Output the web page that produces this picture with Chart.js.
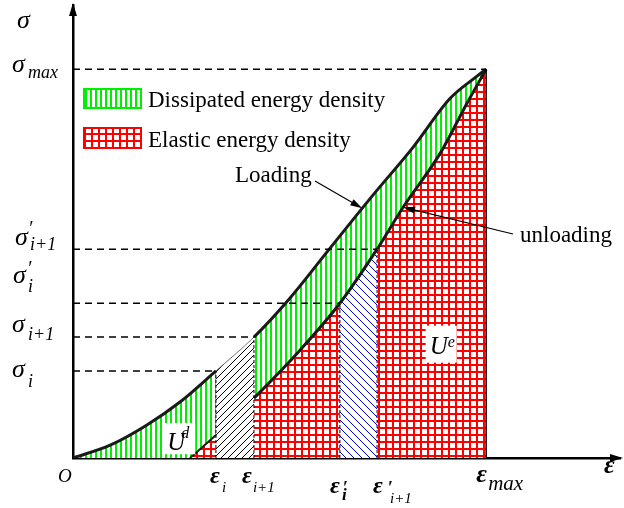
<!DOCTYPE html>
<html>
<head>
<meta charset="utf-8">
<script src="https://cdn.jsdelivr.net/npm/chart.js@4.4.0/dist/chart.umd.min.js"></script>
<style>
  body { margin: 0; background: #fff; }
  canvas { display: block; }
</style>
</head>
<body>
<canvas id="energyChart" width="624" height="508"></canvas>
<script>
// strain / stress in relative units (eps_max = sigma_max = 100)
const loadEps = [0, 9.0, 17.9, 25.9, 34.6, 43.8, 52.5, 61.5, 72.6, 82.3, 91.3, 97.8, 100];
const loadSig = [0, 3.3, 8.5, 14.4, 22.4, 31.1, 41.1, 53.0, 67.6, 79.9, 92.5, 98.2, 100];
const unloadEps = [28.3, 34.6, 43.8, 55.0, 64.6, 73.6, 79.9, 88.9, 95.4, 100];
const unloadSig = [0, 5.9, 15.4, 27.8, 39.8, 53.7, 64.5, 78.4, 91.3, 100];
// marked points: i, i+1, i', (i+1)', max
const markEps = [34.6, 43.8, 64.6, 73.6, 100];
const markSig = [22.4, 31.1, 39.8, 53.7, 100];
const xMax = 132.4;
const yMax = 116.5;

const canvas = document.getElementById("energyChart");
const mainCtx = canvas.getContext("2d");
const serif = '"Liberation Serif", "Times New Roman", serif';

const makePattern = (w, h, draw) => {
    const c = document.createElement("canvas");
    c.width = w; c.height = h;
    const g = c.getContext("2d");
    g.fillStyle = "#fff";
    g.fillRect(0, 0, w, h);
    draw(g, w, h);
    return mainCtx.createPattern(c, "repeat");
};

const greenPat = makePattern(5, 5, (g, w, h) => {
    g.fillStyle = "#00ee00";
    g.fillRect(0, 0, 2, h);
});
const redPat = makePattern(7, 7, (g, w, h) => {
    g.fillStyle = "#ff0000";
    g.fillRect(0, 0, 2, h);
    g.fillRect(0, 0, w, 2);
});
const blackPat = makePattern(7, 7, (g, w, h) => {
    g.strokeStyle = "#000";
    g.lineWidth = 1;
    g.beginPath();
    g.moveTo(-1, h + 1); g.lineTo(w + 1, -1);
    g.moveTo(-1, 1); g.lineTo(1, -1);
    g.moveTo(w - 1, h + 1); g.lineTo(w + 1, h - 1);
    g.stroke();
});
const bluePat = makePattern(8, 8, (g, w, h) => {
    g.strokeStyle = "#0000ff";
    g.lineWidth = 1;
    g.beginPath();
    g.moveTo(-1, -1); g.lineTo(w + 1, h + 1);
    g.moveTo(w - 1, -1); g.lineTo(w + 1, 1);
    g.moveTo(-1, h - 1); g.lineTo(1, h + 1);
    g.stroke();
});

const inRange = (xs, c, a, b) => xs[c.p0DataIndex] >= a - 0.01 && xs[c.p1DataIndex] <= b + 0.01;

const loadGap = c => inRange(loadEps, c, markEps[0], markEps[1]);
const unloadGap = c => inRange(unloadEps, c, markEps[0], markEps[1]);
const unloadFirst = c => unloadEps[c.p1DataIndex] <= markEps[0] + 0.01;
const unloadBlue = c => inRange(unloadEps, c, markEps[2], markEps[3]);

const refLines = [];
markSig.forEach((s, i) => {
    refLines.push({
        data: [{x: 0, y: s}, {x: markEps[i], y: s}],
        borderColor: "#000", borderWidth: 1.5, borderDash: [7, 5],
        pointRadius: 0, fill: false, order: 1
    });
    refLines.push({
        data: [{x: markEps[i], y: 0}, {x: markEps[i], y: s}],
        borderColor: "#000", borderWidth: i === 4 ? 1.5 : 1, borderDash: i === 4 ? [] : [3, 2],
        pointRadius: 0, fill: false, order: 1
    });
});

const arrow = (ctx, x0, y0, x1, y1) => {
    const a = Math.atan2(y1 - y0, x1 - x0);
    ctx.beginPath();
    ctx.moveTo(x0, y0);
    ctx.lineTo(x1 - 8 * Math.cos(a), y1 - 8 * Math.sin(a));
    ctx.lineWidth = 1.2;
    ctx.stroke();
    ctx.beginPath();
    ctx.moveTo(x1, y1);
    ctx.lineTo(x1 - 12 * Math.cos(a) + 3.5 * Math.sin(a), y1 - 12 * Math.sin(a) - 3.5 * Math.cos(a));
    ctx.lineTo(x1 - 12 * Math.cos(a) - 3.5 * Math.sin(a), y1 - 12 * Math.sin(a) + 3.5 * Math.cos(a));
    ctx.closePath();
    ctx.fill();
};

const put = (ctx, txt, x, y, size, style) => {
    ctx.font = (style || "") + " " + size + "px " + serif;
    ctx.fillText(txt, x, y);
};

const labelsPlugin = {
    id: "labels",
    afterDraw(chart) {
        const ctx = chart.ctx;
        const xs = chart.scales.x, ys = chart.scales.y;
        const area = chart.chartArea;
        const base = ys.getPixelForValue(0);
        ctx.save();
        ctx.fillStyle = "#000";
        ctx.strokeStyle = "#000";
        ctx.textBaseline = "alphabetic";
        ctx.textAlign = "left";

        // axis arrow heads
        ctx.beginPath();
        ctx.moveTo(area.left, area.top - 2);
        ctx.lineTo(area.left - 4, area.top + 11);
        ctx.lineTo(area.left + 4, area.top + 11);
        ctx.closePath();
        ctx.fill();
        ctx.beginPath();
        ctx.moveTo(area.right + 3, base);
        ctx.lineTo(area.right - 10, base - 4);
        ctx.lineTo(area.right - 10, base + 4);
        ctx.closePath();
        ctx.fill();

        // stress labels
        let py = ys.getPixelForValue(markSig[4]);
        put(ctx, "σ", 12, py + 3, 26, "italic");
        put(ctx, "max", 28, py + 9, 18, "italic");
        py = ys.getPixelForValue(markSig[3]);
        put(ctx, "σ", 15, py - 4, 26, "italic");
        put(ctx, "′", 28, py - 14, 20, "italic");
        put(ctx, "i+1", 30, py + 1, 18, "italic");
        py = ys.getPixelForValue(markSig[2]);
        put(ctx, "σ", 13, py - 20, 26, "italic");
        put(ctx, "′", 27, py - 28, 20, "italic");
        put(ctx, "i", 28, py - 11, 18, "italic");
        py = ys.getPixelForValue(markSig[1]);
        put(ctx, "σ", 12, py - 5, 26, "italic");
        put(ctx, "i+1", 28, py + 3, 18, "italic");
        py = ys.getPixelForValue(markSig[0]);
        put(ctx, "σ", 12, py + 6, 26, "italic");
        put(ctx, "i", 28, py + 16, 18, "italic");
        put(ctx, "σ", 17, area.top + 23, 26, "italic");

        // strain labels
        let px = xs.getPixelForValue(markEps[0]);
        put(ctx, "ε", px - 6, base + 25, 24, "italic bold");
        put(ctx, "i", px + 6, base + 34, 15, "italic");
        px = xs.getPixelForValue(markEps[1]);
        put(ctx, "ε", px - 12, base + 25, 24, "italic bold");
        put(ctx, "i+1", px - 1, base + 34, 15, "italic");
        px = xs.getPixelForValue(markEps[2]);
        put(ctx, "ε", px - 10, base + 35, 24, "italic bold");
        put(ctx, "′", px + 3, base + 36, 18, "bold");
        put(ctx, "i", px + 2, base + 42, 17, "italic bold");
        px = xs.getPixelForValue(markEps[3]);
        put(ctx, "ε", px - 4, base + 35, 24, "italic bold");
        put(ctx, "′", px + 11, base + 36, 18, "bold");
        put(ctx, "i+1", px + 13, base + 45, 15, "italic");
        px = xs.getPixelForValue(markEps[4]);
        put(ctx, "ε", px - 10, base + 24, 26, "italic bold");
        put(ctx, "max", px + 2, base + 32, 21, "italic");
        put(ctx, "ε", area.right - 16, base + 15, 26, "italic bold");
        put(ctx, "O", 58, base + 24, 19, "italic");

        // legend
        ctx.fillStyle = greenPat;
        ctx.fillRect(84, 89, 57, 19);
        ctx.strokeStyle = "#00ee00";
        ctx.lineWidth = 2;
        ctx.strokeRect(84, 89, 57, 19);
        ctx.fillStyle = redPat;
        ctx.fillRect(84, 128, 57, 20);
        ctx.strokeStyle = "#ff0000";
        ctx.strokeRect(84, 128, 57, 20);
        ctx.fillStyle = "#000";
        ctx.strokeStyle = "#000";
        put(ctx, "Dissipated energy density", 148, 107, 23);
        put(ctx, "Elastic energy density", 148, 147, 23);

        // curve annotations
        put(ctx, "Loading", 235, 182, 23);
        arrow(ctx, 315, 181, xs.getPixelForValue(70.0), ys.getPixelForValue(64.2));
        put(ctx, "unloading", 520, 242, 23);
        arrow(ctx, 513, 234, xs.getPixelForValue(79.9), ys.getPixelForValue(64.5));

        // U^d and U^e boxes
        let cx = xs.getPixelForValue(25.7), cy = ys.getPixelForValue(5.1);
        ctx.fillStyle = "#fff";
        ctx.fillRect(cx - 16, cy - 15, 32, 31);
        ctx.fillStyle = "#000";
        put(ctx, "U", cx - 12, cy + 12, 25, "italic");
        put(ctx, "d", cx + 2, cy, 16, "italic");
        cx = xs.getPixelForValue(89.0); cy = ys.getPixelForValue(29.4);
        ctx.fillStyle = "#fff";
        ctx.fillRect(cx - 15, cy - 18, 31, 37);
        ctx.fillStyle = "#000";
        put(ctx, "U", cx - 11, cy + 10, 25, "italic");
        put(ctx, "e", cx + 7, cy + 3, 16, "italic");
        ctx.restore();
    }
};

new Chart(canvas, {
    type: "line",
    data: {
        datasets: [
            ...refLines,
            {
                data: loadEps.map((x, i) => ({x: x, y: loadSig[i]})),
                borderColor: "#1a1a1a", borderWidth: 3, pointRadius: 0,
                cubicInterpolationMode: "monotone",
                fill: "origin", backgroundColor: greenPat,
                segment: {
                    backgroundColor: c => loadGap(c) ? blackPat : greenPat,
                    borderWidth: c => loadGap(c) ? 1 : 3,
                    borderColor: c => loadGap(c) ? "#777" : "#1a1a1a"
                },
                order: 10
            },
            {
                data: unloadEps.map((x, i) => ({x: x, y: unloadSig[i]})),
                borderColor: "#1a1a1a", borderWidth: 3, pointRadius: 0,
                cubicInterpolationMode: "monotone",
                fill: "origin", backgroundColor: redPat,
                segment: {
                    backgroundColor: c => unloadGap(c) ? "rgba(0,0,0,0)" : (unloadBlue(c) ? bluePat : redPat),
                    borderWidth: c => unloadFirst(c) ? 2 : 3,
                    borderColor: c => unloadGap(c) ? "rgba(0,0,0,0)" : "#1a1a1a"
                },
                order: 9
            }
        ]
    },
    options: {
        responsive: false,
        animation: false,
        devicePixelRatio: 1,
        events: [],
        layout: {padding: {left: 73, right: 4, top: 5, bottom: 50}},
        plugins: {
            legend: {display: false},
            tooltip: {enabled: false},
            filler: {drawTime: "beforeDatasetsDraw"}
        },
        scales: {
            x: {
                type: "linear", min: 0, max: xMax, z: 1,
                grid: {display: false, drawTicks: false}, ticks: {display: false},
                border: {color: "#000", width: 2.5}
            },
            y: {
                type: "linear", min: 0, max: yMax, z: 1,
                grid: {display: false, drawTicks: false}, ticks: {display: false},
                border: {color: "#000", width: 2.5}
            }
        }
    },
    plugins: [labelsPlugin]
});
</script>
</body>
</html>
